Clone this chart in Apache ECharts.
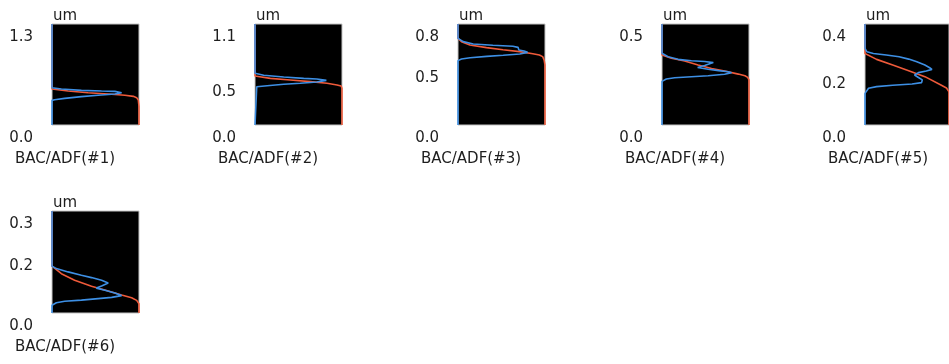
<!DOCTYPE html>
<html>
<head>
<meta charset="utf-8">
<script src="https://cdn.jsdelivr.net/npm/echarts@6/dist/echarts.min.js"></script>
<style>
  html, body { margin: 0; padding: 0; background: #ffffff; }
  #chart { width: 949px; height: 364px; }
</style>
</head>
<body>
<div id="chart"></div>
<script>
// Depth profiles: x = normalised intensity (0..1), y = depth in um.
const panelTitles = ['BAC/ADF(#1)', 'BAC/ADF(#2)', 'BAC/ADF(#3)', 'BAC/ADF(#4)', 'BAC/ADF(#5)', 'BAC/ADF(#6)'];
const depthMax = [1.3, 1.1, 0.83, 0.5, 0.374, 0.34];
const depthTicks = [
  [0, 1.3],
  [0, 0.5, 1.1],
  [0, 0.5, 0.83],
  [0, 0.5],
  [0, 0.2, 0.374],
  [0, 0.2, 0.34]
];
const depthUnit = 'um';

// ADF signal (blue)
const adf1 = [[0,1.3],[0,0.480],[0.108,0.463],[0.338,0.446],[0.569,0.438],[0.723,0.433],[0.80,0.416],[0.723,0.399],[0.53,0.382],[0.338,0.365],[0.146,0.343],[0.03,0.326],[0,0.317],[0,0]];
const adf2 = [[0,1.1],[0,0.563],[0.10,0.541],[0.33,0.523],[0.56,0.508],[0.71,0.501],[0.82,0.486],[0.71,0.468],[0.52,0.454],[0.33,0.443],[0.14,0.428],[0.02,0.417],[0,0.410],[0,0]];
const adf3 = [[0,0.83],[0,0.712],[0.06,0.685],[0.175,0.666],[0.40,0.655],[0.63,0.647],[0.69,0.638],[0.70,0.617],[0.76,0.608],[0.80,0.597],[0.71,0.584],[0.52,0.573],[0.33,0.564],[0.14,0.553],[0.04,0.543],[0,0.529],[0,0]];
const adf4 = [[0,0.5],[0,0.355],[0.07,0.338],[0.185,0.325],[0.338,0.318],[0.49,0.314],[0.59,0.309],[0.49,0.295],[0.41,0.285],[0.53,0.276],[0.65,0.269],[0.76,0.264],[0.80,0.259],[0.72,0.251],[0.53,0.244],[0.338,0.239],[0.146,0.234],[0.05,0.228],[0,0.216],[0,0]];
const adf5 = [[0,0.374],[0,0.284],[0.023,0.271],[0.10,0.265],[0.253,0.259],[0.406,0.253],[0.52,0.244],[0.617,0.234],[0.713,0.222],[0.77,0.212],[0.797,0.206],[0.73,0.200],[0.636,0.194],[0.59,0.185],[0.636,0.176],[0.682,0.167],[0.674,0.157],[0.56,0.152],[0.33,0.147],[0.138,0.142],[0.042,0.136],[0,0.117],[0,0]];
const adf6 = [[0,0.34],[0,0.156],[0.05,0.148],[0.185,0.137],[0.338,0.126],[0.454,0.118],[0.57,0.109],[0.646,0.100],[0.57,0.090],[0.51,0.083],[0.608,0.076],[0.723,0.067],[0.80,0.058],[0.685,0.052],[0.53,0.048],[0.338,0.043],[0.146,0.039],[0.05,0.034],[0,0.026],[0,0]];

// BAC signal (red)
const bac1 = [[0,1.3],[0,0.463],[0.185,0.438],[0.415,0.416],[0.646,0.399],[0.838,0.382],[0.935,0.369],[0.973,0.352],[0.992,0.322],[1,0.236],[1,0]];
const bac2 = [[0,1.1],[0,0.534],[0.176,0.508],[0.406,0.490],[0.636,0.472],[0.828,0.454],[0.943,0.436],[0.99,0.425],[1,0.400],[1,0]];
const bac3 = [[0,0.83],[0,0.712],[0.04,0.685],[0.137,0.658],[0.327,0.636],[0.517,0.619],[0.707,0.603],[0.86,0.586],[0.935,0.575],[0.973,0.562],[0.99,0.534],[1,0.493],[1,0]];
const bac4 = [[0,0.5],[0,0.347],[0.108,0.330],[0.26,0.317],[0.415,0.297],[0.57,0.280],[0.72,0.267],[0.877,0.252],[0.954,0.244],[0.985,0.236],[1,0.223],[1,0]];
const bac5 = [[0,0.374],[0,0.265],[0.138,0.243],[0.33,0.222],[0.52,0.201],[0.713,0.179],[0.904,0.148],[0.97,0.137],[1,0.123],[1,0]];
const bac6 = [[0,0.34],[0,0.156],[0.108,0.131],[0.26,0.109],[0.454,0.089],[0.646,0.073],[0.80,0.060],[0.915,0.051],[0.973,0.042],[1,0.031],[1,0]];

const adfProfiles = [adf1, adf2, adf3, adf4, adf5, adf6];
const bacProfiles = [bac1, bac2, bac3, bac4, bac5, bac6];

const BLUE = '#3d8fe4';
const RED = '#ee5a3a';
const FONT = 'DejaVu Sans';
const TEXT = '#1e1e1e';

// panel layout: five per row, 203 px apart
const boxW = 87;
function boxPos(i) {
  const col = i % 5, row = Math.floor(i / 5);
  return { left: Math.round(52 + col * 203.2), top: row === 0 ? 24 : 211, height: row === 0 ? 101 : 102 };
}

const grids = [], xAxes = [], yAxes = [], series = [], titles = [];
panelTitles.forEach((name, i) => {
  const p = boxPos(i);
  grids.push({
    left: p.left, top: p.top, width: boxW, height: p.height,
    show: true, backgroundColor: '#000000', borderColor: '#c4c4c4', borderWidth: 1
  });
  xAxes.push({ gridIndex: i, type: 'value', min: 0, max: 1, show: false });
  yAxes.push({
    gridIndex: i, type: 'value', min: 0, max: depthMax[i],
    name: depthUnit, nameLocation: 'end', nameGap: 8,
    nameTextStyle: { fontFamily: FONT, fontSize: 15, color: TEXT, align: 'left', verticalAlign: 'middle', padding: [0, 0, 0, 1] },
    axisLine: { show: false }, axisTick: { show: false }, splitLine: { show: false },
    axisLabel: {
      customValues: depthTicks[i],
      formatter: v => Number(v).toFixed(1),
      fontFamily: FONT, fontSize: 15, color: TEXT,
      margin: 19, verticalAlign: 'top', padding: [6, 0, 0, 0],
      showMinLabel: true, showMaxLabel: true
    }
  });
  series.push({
    type: 'line', xAxisIndex: i, yAxisIndex: i, data: bacProfiles[i],
    showSymbol: false, clip: false, lineStyle: { color: RED, width: 1.6 }, z: 2, silent: true
  });
  series.push({
    type: 'line', xAxisIndex: i, yAxisIndex: i, data: adfProfiles[i],
    showSymbol: false, clip: false, lineStyle: { color: BLUE, width: 1.6 }, z: 3, silent: true
  });
  titles.push({
    text: name, left: p.left - 37, top: p.top + p.height + 27, padding: 0,
    textStyle: { fontFamily: FONT, fontSize: 15, fontWeight: 'normal', color: TEXT }
  });
});

const chart = echarts.init(document.getElementById('chart'), null, { renderer: 'canvas' });
chart.setOption({
  animation: false,
  backgroundColor: '#ffffff',
  title: titles,
  grid: grids,
  xAxis: xAxes,
  yAxis: yAxes,
  series: series
});
</script>
</body>
</html>
